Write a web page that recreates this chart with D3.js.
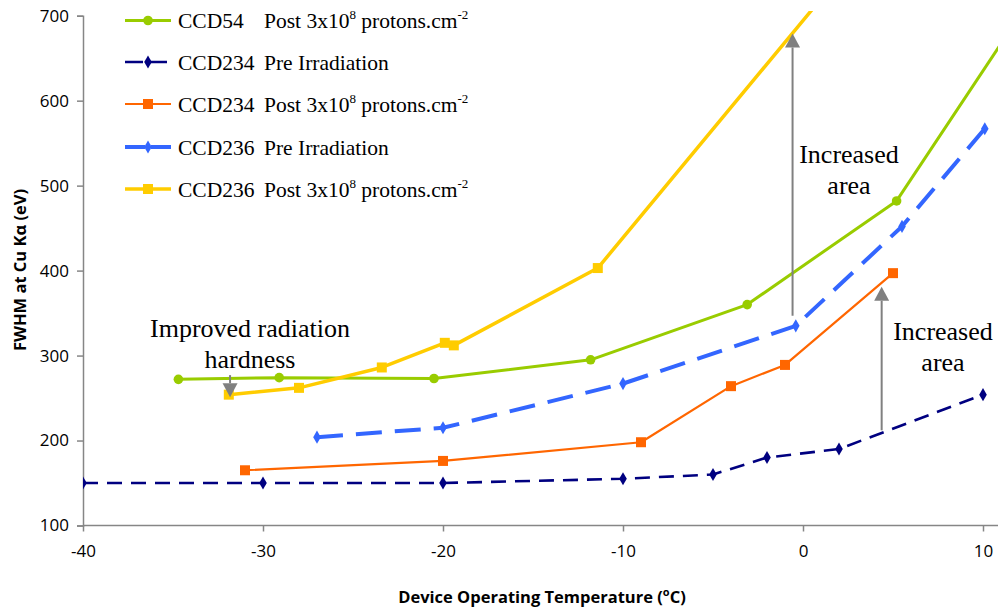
<!DOCTYPE html>
<html>
<head>
<meta charset="utf-8">
<style>
  body { margin: 0; background: #fff; }
  svg { display: block; }
  .tick text { font-family: "Open Sans", sans-serif; font-size: 17px; fill: #000; }
  .axis-title { font-family: "Open Sans", sans-serif; font-weight: bold; fill: #000; }
  .serif { font-family: "Liberation Serif", "Times New Roman", serif; fill: #000; }
</style>
<script src="https://cdn.jsdelivr.net/npm/d3@7"></script>
</head>
<body>
<svg id="chart"></svg>
<script>
  // values
  var xTicks = [-40, -30, -20, -10, 0, 10];
  var yTicks = [100, 200, 300, 400, 500, 600, 700];

  var ccd54PostT = [-34.7, -29.1, -20.5, -11.8, -3.1, 5.2, 12];
  var ccd54PostV = [272, 274, 273, 295, 360, 482, 699];

  var ccd234PreT = [-40, -30, -20, -10, -5, -2, 2, 10];
  var ccd234PreV = [150, 150, 150, 155, 160, 180, 190, 254];

  var ccd234PostT = [-31, -20, -9, -4, -1, 5];
  var ccd234PostV = [165, 176, 198, 264, 289, 397];

  var ccd236PreT = [-27, -20, -10, -0.4, 5.5, 10.1];
  var ccd236PreV = [204, 215, 267, 335, 452, 567];

  var ccd236PostT = [-31.9, -28, -23.4, -19.9, -19.4, -11.4, 5];
  var ccd236PostV = [254, 262, 286, 315, 312, 403, 822];

  var width = 998, height = 610;

  var svg = d3.select("#chart")
    .attr("width", width)
    .attr("height", height);

  var x = d3.scaleLinear().domain([-40, 10]).range([83, 983]);
  var y = d3.scaleLinear().domain([100, 700]).range([525.5, 15.7]);

  var series = [
    {name: "CCD54", desc: "post", color: "#99CC00", width: 3, dash: null, marker: "circle", t: ccd54PostT, v: ccd54PostV},
    {name: "CCD234", desc: "pre", color: "#000080", width: 2.6, dash: "15,9", marker: "diamond", t: ccd234PreT, v: ccd234PreV},
    {name: "CCD234", desc: "post", color: "#FF6600", width: 2.2, dash: null, marker: "square", t: ccd234PostT, v: ccd234PostV},
    {name: "CCD236", desc: "pre", color: "#3366FF", width: 4, dash: "26,13", marker: "diamond", t: ccd236PreT, v: ccd236PreV},
    {name: "CCD236", desc: "post", color: "#FFCC00", width: 3.5, dash: null, marker: "square", t: ccd236PostT, v: ccd236PostV}
  ];

  svg.append("defs").append("clipPath").attr("id", "plot-clip")
    .append("rect")
      .attr("x", 83).attr("y", 11)
      .attr("width", width - 83).attr("height", 525.5 - 11);

  // axes
  var xAxis = svg.append("g")
    .attr("transform", "translate(0," + y(100) + ")")
    .call(d3.axisBottom(x).tickValues(xTicks).tickSize(6).tickPadding(13).tickFormat(d => String(d)));
  xAxis.select(".domain").attr("d", "M83,0H998");

  var yAxis = svg.append("g")
    .attr("transform", "translate(" + x(-40) + ",0)")
    .call(d3.axisLeft(y).tickValues(yTicks).tickSize(6).tickPadding(8));

  svg.selectAll(".domain, .tick line")
    .attr("stroke", "#868686")
    .attr("stroke-width", 1.5);

  svg.append("text")
    .attr("class", "axis-title")
    .attr("transform", "translate(26,270) rotate(-90)")
    .attr("text-anchor", "middle")
    .style("font-size", "16.5px")
    .text("FWHM at Cu K\u03b1 (eV)");

  var xt = svg.append("text")
    .attr("class", "axis-title")
    .attr("x", 542).attr("y", 603)
    .attr("text-anchor", "middle")
    .style("font-size", "16.5px");
  xt.append("tspan").text("Device Operating Temperature (");
  xt.append("tspan").attr("dy", -7).style("font-size", "11px").text("o");
  xt.append("tspan").attr("dy", 7).text("C)");

  function drawMarker(g, type, color, cx, cy) {
    if (type === "circle") {
      g.append("circle").attr("cx", cx).attr("cy", cy).attr("r", 4.8).attr("fill", color);
    } else if (type === "square") {
      g.append("rect").attr("x", cx - 5).attr("y", cy - 5).attr("width", 10).attr("height", 10).attr("fill", color);
    } else {
      g.append("path").attr("d", d3.symbol(d3.symbolDiamond, 50)()).attr("transform", "translate(" + cx + "," + cy + ")").attr("fill", color);
    }
  }

  var plot = svg.append("g").attr("clip-path", "url(#plot-clip)");
  var line = d3.line().x(d => x(d[0])).y(d => y(d[1]));

  series.forEach(function(s) {
    var pts = s.t.map((t, i) => [t, s.v[i]]);
    var g = plot.append("g");
    g.append("path")
      .attr("d", line(pts))
      .attr("fill", "none")
      .attr("stroke", s.color)
      .attr("stroke-width", s.width)
      .attr("stroke-dasharray", s.dash)
      .attr("stroke-linejoin", "round");
    pts.forEach(p => drawMarker(g, s.marker, s.color, x(p[0]), y(p[1])));
  });

  // legend
  var legendY = [20.5, 62, 104, 147, 189];
  var legend = svg.append("g");
  series.forEach(function(s, i) {
    var ly = legendY[i];
    legend.append("line")
      .attr("x1", 125).attr("x2", 171).attr("y1", ly).attr("y2", ly)
      .attr("stroke", s.color).attr("stroke-width", s.width)
      .attr("stroke-dasharray", s.dash ? (s.dash === "15,9" ? "18,6" : "20,6") : null);
    drawMarker(legend, s.marker, s.color, 148, ly);
    legend.append("text").attr("class", "serif")
      .attr("x", 178).attr("y", ly + 7.5).style("font-size", "21.5px")
      .text(s.name);
    var t = legend.append("text").attr("class", "serif")
      .attr("x", 264).attr("y", ly + 7.5).style("font-size", "21.5px");
    if (s.desc === "pre") {
      t.text("Pre Irradiation");
    } else {
      t.append("tspan").text("Post 3x10");
      t.append("tspan").attr("dy", -9).style("font-size", "13px").text("8");
      t.append("tspan").attr("dy", 9).text(" protons.cm");
      t.append("tspan").attr("dy", -9).style("font-size", "13px").text("-2");
    }
  });

  // annotations
  var arrows = [
    {t: -0.58, from: 347, to: 679},
    {t: 4.37, from: 212, to: 381},
    {t: -31.83, from: 277, to: 251}
  ];
  arrows.forEach(function(a) {
    var ax = x(a.t), y0 = y(a.from), y1 = y(a.to);
    var dir = y1 < y0 ? 1 : -1;
    var head = 14;
    svg.append("line")
      .attr("x1", ax).attr("x2", ax)
      .attr("y1", y0).attr("y2", y1 + dir * head)
      .attr("stroke", "#808080").attr("stroke-width", 2);
    svg.append("path")
      .attr("d", "M" + ax + "," + y1 + "L" + (ax - 7.5) + "," + (y1 + dir * head) + "L" + (ax + 7.5) + "," + (y1 + dir * head) + "Z")
      .attr("fill", "#808080");
  });

  var notes = [
    {lines: ["Improved radiation", "hardness"], cx: 250, y: 337},
    {lines: ["Increased", "area"], cx: 849, y: 163},
    {lines: ["Increased", "area"], cx: 943, y: 340}
  ];
  notes.forEach(function(n) {
    n.lines.forEach(function(l, i) {
      svg.append("text").attr("class", "serif")
        .attr("x", n.cx).attr("y", n.y + i * 30.5)
        .attr("text-anchor", "middle")
        .style("font-size", "26px")
        .text(l);
    });
  });
</script>
</body>
</html>
